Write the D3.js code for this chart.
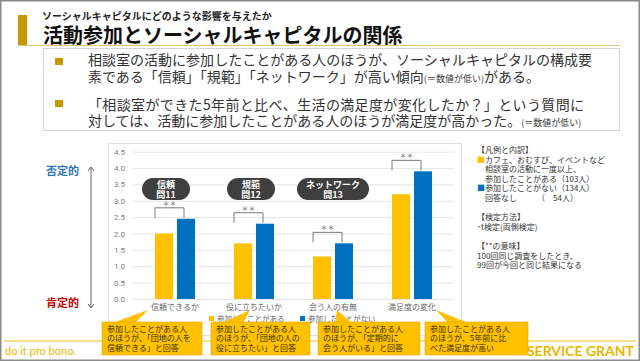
<!DOCTYPE html>
<html>
<head>
<meta charset="utf-8">
<script src="https://cdn.jsdelivr.net/npm/d3@7"></script>
<style>
body { margin: 0; background: #fff; }
svg { display: block; font-family: "Noto Sans CJK JP", "Noto Sans", sans-serif; }
</style>
</head>
<body>
<script>
var categories = ["信頼できるか", "役に立ちたいか", "会う人の有無", "満足度の変化"];
var participated = [2.0, 1.7, 1.3, 3.2];
var notParticipated = [2.45, 2.3, 1.7, 3.9];
var yTicks = [0, 0.5, 1.0, 1.5, 2.0, 2.5, 3.0, 3.5, 4.0, 4.5];
var seriesNames = ["参加したことがある", "参加したことがない"];
var pillLabels = [["信頼", "問11"], ["規範", "問12"], ["ネットワーク", "問13"]];
var signif = ["＊＊", "＊＊", "＊＊", "＊＊"];
var calloutTexts = [
	["参加したことがある人", "のほうが、「団地の人を", "信頼できる」と回答"],
	["参加したことがある人", "のほうが、「団地の人の", "役に立ちたい」と回答"],
	["参加したことがある人", "のほうが、「定期的に", "会う人がいる」と回答"],
	["参加したことがある人", "のほうが、5年前に比", "べた満足度が高い"]
];
var legendNotes = [
	"【凡例と内訳】",
	"■カフェ、おむすび、イベントなど",
	"　相談室の活動に一度以上、",
	"　参加したことがある（103人）",
	"■参加したことがない（134人）",
	"　回答なし　　　（　54人）",
	"",
	"【検定方法】",
	"･t検定(両側検定)",
	"",
	"【**の意味】",
	"100回同じ調査をしたとき、",
	"99回が今回と同じ結果になる"
];

var yellow = "#FFC000", blue = "#0070C0", gold = "#C49A00";

var svg = d3.select("body").append("svg").attr("width", 640).attr("height", 361);

// frame
svg.append("rect").attr("x", 0.75).attr("y", 0.75).attr("width", 638.5).attr("height", 359.5)
	.attr("fill", "none").attr("stroke", "#8a8a8a").attr("stroke-width", 1.5);

// heading
svg.append("rect").attr("x", 18).attr("y", 15).attr("width", 9).attr("height", 30).attr("fill", gold);
svg.append("line").attr("x1", 18).attr("x2", 620).attr("y1", 45.5).attr("y2", 45.5)
	.attr("stroke", "#DCC680").attr("stroke-width", 1);
svg.append("text").attr("x", 42).attr("y", 20).attr("font-size", 10).attr("font-weight", "bold")
	.attr("fill", "#222").text("ソーシャルキャピタルにどのような影響を与えたか");
svg.append("text").attr("x", 43).attr("y", 43).attr("font-size", 20).attr("font-weight", "bold")
	.attr("fill", "#111").text("活動参加とソーシャルキャピタルの関係");

// bullet box
svg.append("rect").attr("x", 43.5).attr("y", 48.5).attr("width", 576).attr("height", 82)
	.attr("fill", "#fff").attr("stroke", "#d4d4d4");
[58, 100].forEach(function (yy) {
	svg.append("rect").attr("x", 55).attr("y", yy).attr("width", 8).attr("height", 7).attr("fill", gold);
});
var bodyText = svg.append("g").attr("font-size", 14).attr("fill", "#333");
bodyText.append("text").attr("x", 88).attr("y", 65).attr("textLength", 504)
	.text("相談室の活動に参加したことがある人のほうが、ソーシャルキャピタルの構成要");
var l2 = bodyText.append("text").attr("x", 88).attr("y", 82);
l2.append("tspan").text("素である「信頼」「規範」「ネットワーク」が高い傾向");
l2.append("tspan").attr("font-size", 9).text("(＝数値が低い)");
l2.append("tspan").text("がある。");
bodyText.append("text").attr("x", 88).attr("y", 110).attr("textLength", 496)
	.text("「相談室ができた5年前と比べ、生活の満足度が変化したか？」という質問に");
var l4 = bodyText.append("text").attr("x", 88).attr("y", 126);
l4.append("tspan").text("対しては、活動に参加したことがある人のほうが満足度が高かった。");
l4.append("tspan").attr("font-size", 9).text("(＝数値が低い)");

// plot frame
svg.append("rect").attr("x", 108.5).attr("y", 143.5).attr("width", 353).attr("height", 192)
	.attr("fill", "#fff").attr("stroke", "#dedede");

var x = d3.scaleBand().domain(categories).range([135.5, 451.5]);
var y = d3.scaleLinear().domain([0, 4.5]).range([299, 151.7]);
var x1 = d3.scaleBand().domain(seriesNames).range([-20, 20]).paddingInner(2 - 40 / 22);

var yAxis = svg.append("g").attr("transform", "translate(132,0)")
	.call(d3.axisLeft(y).tickValues(yTicks).tickFormat(d3.format(".1f")).tickSize(-322).tickPadding(7));
yAxis.select(".domain").remove();
yAxis.selectAll("line").attr("stroke", "#e6e6e6");
yAxis.selectAll("text").attr("fill", "#808080").attr("font-size", 8).attr("font-family", "Roboto, sans-serif");

var xAxis = svg.append("g").attr("transform", "translate(0,298)")
	.call(d3.axisBottom(x).tickSize(0).tickPadding(6));
xAxis.select(".domain").remove();
xAxis.selectAll("text").attr("fill", "#666").attr("font-size", 8).attr("font-family", "Noto Sans CJK JP");

var series = [participated, notParticipated];
series.forEach(function (vals, si) {
	svg.append("g").selectAll("rect")
		.data(categories)
		.enter()
		.append("rect")
		.attr("x", function (d) { return x(d) + x.bandwidth() / 2 + x1(seriesNames[si]); })
		.attr("width", x1.bandwidth())
		.attr("y", function (d, i) { return y(vals[i]); })
		.attr("height", function (d, i) { return y(0) - y(vals[i]); })
		.attr("fill", si === 0 ? yellow : blue);
});

// significance brackets
var brackets = svg.append("g");
categories.forEach(function (c, i) {
	var cx = x(c) + x.bandwidth() / 2;
	var top = y(Math.max(participated[i], notParticipated[i])) - 11;
	var x0 = cx - 20, x2 = cx + 9;
	brackets.append("path")
		.attr("d", "M" + x0 + "," + (top + 10) + "V" + top + "H" + x2 + "V" + (top + 10))
		.attr("fill", "none").attr("stroke", "#7a7a7a").attr("stroke-width", 1);
	brackets.append("text").attr("x", (x0 + x2) / 2).attr("y", top - 2)
		.attr("text-anchor", "middle").attr("font-size", 7).attr("fill", "#666").text(signif[i]);
});

// pills
var pillShift = [-9, -3, 0];
pillLabels.forEach(function (lines, i) {
	var cx = x(categories[i]) + x.bandwidth() / 2 + pillShift[i];
	var w = lines[0].length > 3 ? 72 : 48;
	var g = svg.append("g");
	g.append("rect").attr("x", cx - w / 2).attr("y", 178).attr("width", w).attr("height", 22)
		.attr("rx", 11).attr("fill", "#3f3f3f");
	lines.forEach(function (t, k) {
		g.append("text").attr("x", cx).attr("y", 187.5 + k * 10).attr("text-anchor", "middle")
			.attr("font-size", 9).attr("font-weight", "bold").attr("fill", "#fff").text(t);
	});
});

// series legend (mostly hidden by callouts)
var lg = svg.append("g").attr("font-size", 7.5).attr("fill", "#666");
seriesNames.forEach(function (n, i) {
	var lx = 209 + i * 91;
	lg.append("rect").attr("x", lx).attr("y", 316).attr("width", 5).attr("height", 5).attr("fill", i === 0 ? yellow : blue);
	lg.append("text").attr("x", lx + 8).attr("y", 322).text(n);
});

// left scale note
var arrowX = 91;
svg.append("line").attr("x1", arrowX).attr("x2", arrowX).attr("y1", 167).attr("y2", 308)
	.attr("stroke", "#666").attr("stroke-width", 1);
svg.append("path").attr("d", "M" + (arrowX - 3) + ",171L" + arrowX + ",167L" + (arrowX + 3) + ",171")
	.attr("fill", "none").attr("stroke", "#666");
svg.append("path").attr("d", "M" + (arrowX - 3) + ",304L" + arrowX + ",308L" + (arrowX + 3) + ",304")
	.attr("fill", "none").attr("stroke", "#666");
svg.append("text").attr("x", 46).attr("y", 175).attr("font-size", 11).attr("font-weight", "bold")
	.attr("fill", "#2E75B6").text("否定的");
svg.append("text").attr("x", 46).attr("y", 307).attr("font-size", 11).attr("font-weight", "bold")
	.attr("fill", "#C00000").text("肯定的");

// legend notes
var notes = svg.append("g").attr("font-size", 8).attr("fill", "#333");
legendNotes.forEach(function (t, i) {
	if (!t) return;
	var tx = notes.append("text").attr("x", 477).attr("y", 153 + i * 9.6);
	if (t.charAt(0) === "■") {
		tx.append("tspan").attr("fill", i === 1 ? yellow : blue).text("■");
		tx.append("tspan").text(t.slice(1));
	} else {
		tx.text(t);
	}
});

// footer
svg.append("line").attr("x1", 4).attr("x2", 636).attr("y1", 341).attr("y2", 341)
	.attr("stroke", "#EFC21A").attr("stroke-width", 1.2);
svg.append("text").attr("x", 5).attr("y", 355).attr("font-size", 11).attr("fill", "#E9B800")
	.attr("font-family", "Lato, sans-serif").text("do it pro bono.");
svg.append("text").attr("x", 634).attr("y", 356).attr("text-anchor", "end").attr("font-size", 14)
	.attr("font-weight", "bold").attr("fill", "#E9B800").attr("font-family", "Lato, sans-serif")
	.text("SERVICE GRANT");

// callouts
var calloutBox = [[102, 202], [211, 310], [318, 420], [425, 528]];
var calloutTip = [[-27, [112, 135]], [-4, [222, 243]], [4, [335, 352]], [24, [448, 468]]];
calloutTexts.forEach(function (lines, i) {
	var b = calloutBox[i];
	var tipX = x(categories[i]) + x.bandwidth() / 2 + calloutTip[i][0];
	var base = calloutTip[i][1];
	var g = svg.append("g");
	g.append("path").attr("d", "M" + base[0] + ",323L" + tipX + ",310L" + base[1] + ",323Z").attr("fill", yellow);
	g.append("rect").attr("x", b[0]).attr("y", 322).attr("width", b[1] - b[0]).attr("height", 33)
		.attr("fill", yellow).attr("stroke", "#E0A800").attr("stroke-width", 0.6);
	lines.forEach(function (t, k) {
		g.append("text").attr("x", b[0] + 5).attr("y", 332 + k * 9.3).attr("font-size", 8)
			.attr("fill", "#3a3000").text(t);
	});
});
</script>
</body>
</html>
